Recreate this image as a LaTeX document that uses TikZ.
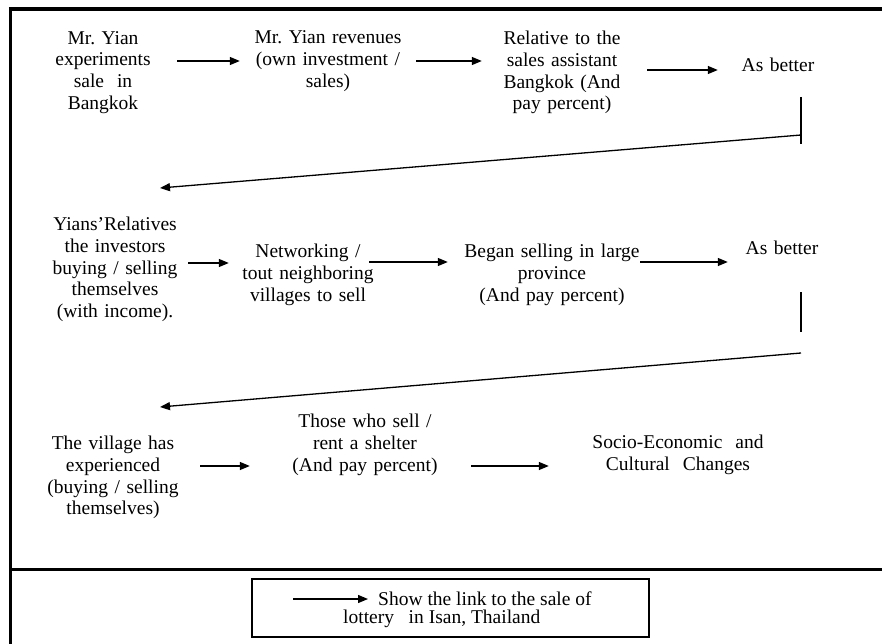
\documentclass[tikz,border=0pt]{standalone}
\usepackage{fontspec}
\setmainfont{Liberation Serif}
\usetikzlibrary{arrows.meta}
\frenchspacing
\begin{document}
\begin{tikzpicture}[x=1pt,y=-1pt,
  font=\fontsize{19.5}{21.7}\selectfont,
  lbl/.style={inner sep=0pt,align=center,text width=#1},
  arr/.style={line width=1.3pt,-{Triangle[length=10pt,width=8pt]}},
  ln/.style={line width=1.3pt},
  frame/.style={line width=#1}]
\useasboundingbox (0,0) rectangle (882,644);
% frame
\draw[frame=3pt] (10.3,644) -- (10.3,8);
\draw[frame=4pt] (8.8,9.5) -- (882,9.5);
\draw[frame=3.5pt] (10,569.5) -- (882,569.5);
% row 1
\node[lbl=148pt] (a1) at (103,72.5) {Mr. Yian\\experiments\\sale\ \ in\\Bangkok};
\node[lbl=176pt] (a2) at (328,61) {Mr. Yian revenues\\(own investment /\\sales)};
\node[lbl=160pt] (a3) at (562,72.5) {Relative to the\\sales assistant\\Bangkok (And\\pay percent)};
\node[lbl=120pt] (a4) at (778,65) {As better};
\draw[arr] ([yshift=11.5pt]a1.east) -- (a2.west);
\draw[arr] (a2.east) -- ([yshift=11.5pt]a3.west);
\draw[arr] ([xshift=5pt,yshift=2.5pt]a3.east) -- ([yshift=-5pt]a4.west);
\coordinate (v1t) at (801,97);
\coordinate (v1b) at (801,144);
\coordinate (s1s) at (801,135);
\coordinate (s1e) at (160,188);
\draw[ln] (v1t) -- (v1b);
\draw[arr] (s1s) -- (s1e);
% row 2
\node[lbl=146pt] (b1) at (115,269.5) {Yians’Relatives\\the investors\\buying / selling\\themselves\\(with income).};
\node[lbl=158pt] (b2) at (308,275) {Networking /\\tout neighboring\\villages to sell};
\node[lbl=208pt] (b3) at (552,275) {Began selling in large\\province\\(And pay percent)};
\node[lbl=108pt] (b4) at (782,248) {As better};
\draw[arr] ([yshift=6.5pt]b1.east) -- ([yshift=12pt]b2.west);
\draw[arr] ([xshift=-18pt,yshift=13pt]b2.east) -- ([yshift=13pt]b3.west);
\draw[arr] ([xshift=-16pt,yshift=13pt]b3.east) -- ([yshift=-14pt]b4.west);
\coordinate (v2t) at (801,292);
\coordinate (v2b) at (801,332);
\coordinate (s2s) at (801,353);
\coordinate (s2e) at (160,407);
\draw[ln] (v2t) -- (v2b);
\draw[arr] (s2s) -- (s2e);
% row 3
\node[lbl=174pt] (c1) at (113,477.5) {The village has\\experienced\\(buying / selling\\themselves)};
\node[lbl=230pt] (c2) at (365,445) {Those who sell /\\rent a shelter\\(And pay percent)};
\node[lbl=258pt] (c3) at (678,455) {Socio-Economic\ \ and\\Cultural\ \ Changes};
\draw[arr] ([yshift=11.5pt]c1.east) -- ([yshift=-21pt]c2.west);
\draw[arr] ([xshift=-9pt,yshift=-21pt]c2.east) -- ([yshift=-11pt]c3.west);
% legend
\node[draw,line width=1.5pt,minimum width=397pt,minimum height=58pt,inner sep=0pt] (leg) at (450.5,608) {};
\node[inner sep=0pt,anchor=west] (lt1) at (378,599) {Show the link to the sale of};
\node[inner sep=0pt,anchor=west] (lt2) at (343,619) {lottery\ \ \ in Isan, Thailand};
\coordinate (la) at (293,599);
\draw[arr] (la) -- ([xshift=-10pt]lt1.west);
\end{tikzpicture}
\end{document}
